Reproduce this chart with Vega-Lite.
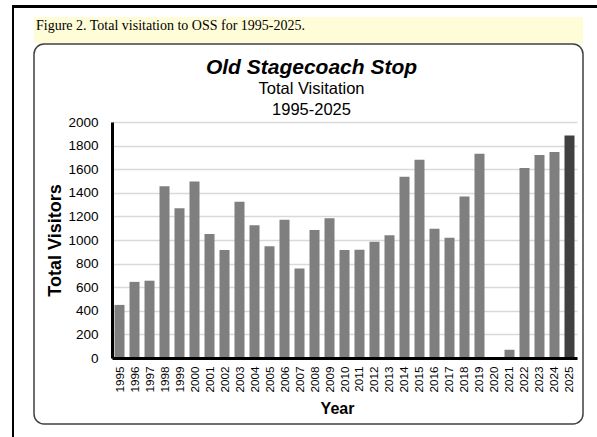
{
  "$schema": "https://vega.github.io/schema/vega-lite/v6.json",
  "background": "white",
  "padding": {"left": 12, "top": 5, "right": 0, "bottom": 0},
  "config": {
    "font": "Liberation Sans",
    "view": {"stroke": null},
    "concat": {"spacing": 0}
  },
  "vconcat": [
    {
      "data": {"values": []},
      "mark": "rect",
      "encoding": {},
      "width": 585,
      "height": 3,
      "view": {"fill": "black", "stroke": null}
    },
    {
      "spacing": 19,
      "hconcat": [
        {
          "data": {"values": []},
          "mark": "rect",
          "encoding": {},
          "width": 2,
          "height": 429,
          "view": {"fill": "black", "stroke": null}
        },
        {
          "spacing": 0,
          "vconcat": [
            {
              "data": {"values": []},
              "mark": "rect",
              "encoding": {},
              "width": 549,
              "height": 9
            },
            {
              "data": {"values": []},
              "mark": "rect",
              "encoding": {},
              "width": 549,
              "height": 26,
              "view": {"fill": "#fffcd8", "stroke": null},
              "title": {
                "text": "Figure 2. Total visitation to OSS for 1995-2025.",
                "font": "Liberation Serif",
                "fontSize": 14,
                "fontWeight": "normal",
                "color": "black",
                "anchor": "start",
                "offset": -16,
                "dx": 2
              }
            },
            {
              "width": 549,
              "height": 380,
              "view": {"fill": "white", "stroke": "#404040", "strokeWidth": 1.5, "cornerRadius": 10},
              "title": {
                "text": "Old Stagecoach Stop",
                "subtitle": ["Total Visitation", "1995-2025"],
                "font": "Liberation Sans",
                "fontSize": 21,
                "fontStyle": "italic",
                "fontWeight": "bold",
                "color": "black",
                "subtitleFont": "Liberation Sans",
                "subtitleFontSize": 16.5,
                "subtitleColor": "black",
                "subtitleLineHeight": 21,
                "subtitlePadding": 3,
                "anchor": "middle",
                "offset": -74,
                "dx": 3
              },
              "data": {
                "values": [
                  {"Year": 1995, "Visitors": 450},
                  {"Year": 1996, "Visitors": 645},
                  {"Year": 1997, "Visitors": 655},
                  {"Year": 1998, "Visitors": 1455},
                  {"Year": 1999, "Visitors": 1270},
                  {"Year": 2000, "Visitors": 1495},
                  {"Year": 2001, "Visitors": 1050},
                  {"Year": 2002, "Visitors": 915},
                  {"Year": 2003, "Visitors": 1325},
                  {"Year": 2004, "Visitors": 1125},
                  {"Year": 2005, "Visitors": 948},
                  {"Year": 2006, "Visitors": 1172},
                  {"Year": 2007, "Visitors": 758},
                  {"Year": 2008, "Visitors": 1084},
                  {"Year": 2009, "Visitors": 1185},
                  {"Year": 2010, "Visitors": 915},
                  {"Year": 2011, "Visitors": 918},
                  {"Year": 2012, "Visitors": 985},
                  {"Year": 2013, "Visitors": 1040},
                  {"Year": 2014, "Visitors": 1535},
                  {"Year": 2015, "Visitors": 1680},
                  {"Year": 2016, "Visitors": 1095},
                  {"Year": 2017, "Visitors": 1020},
                  {"Year": 2018, "Visitors": 1368},
                  {"Year": 2019, "Visitors": 1730},
                  {"Year": 2020, "Visitors": 0},
                  {"Year": 2021, "Visitors": 70},
                  {"Year": 2022, "Visitors": 1610},
                  {"Year": 2023, "Visitors": 1720},
                  {"Year": 2024, "Visitors": 1745},
                  {"Year": 2025, "Visitors": 1885}
                ]
              },
              "mark": {"type": "bar"},
              "encoding": {
                "x": {
                  "field": "Year",
                  "type": "ordinal",
                  "scale": {"range": [78, 543], "paddingInner": 0.333, "paddingOuter": 0.167},
                  "axis": {
                    "title": "Year",
                    "offset": -66,
                    "labelAngle": -90,
                    "labelFontSize": 11.7,
                    "labelColor": "black",
                    "labelPadding": 8,
                    "ticks": false,
                    "grid": false,
                    "domainColor": "black",
                    "domainWidth": 3,
                    "titleFontSize": 16,
                    "titleFontWeight": "bold",
                    "titleColor": "black",
                    "titlePadding": 8,
                    "titleX": 303,
                    "zindex": 1
                  }
                },
                "y": {
                  "field": "Visitors",
                  "type": "quantitative",
                  "scale": {"domain": [0, 2000], "range": [314, 78], "nice": false},
                  "axis": {
                    "title": "Total Visitors",
                    "offset": -78,
                    "values": [0, 200, 400, 600, 800, 1000, 1200, 1400, 1600, 1800, 2000],
                    "format": "d",
                    "grid": true,
                    "gridColor": "#d9d9d9",
                    "gridWidth": 1.5,
                    "domainColor": "black",
                    "domainWidth": 3,
                    "ticks": false,
                    "labelPadding": 14,
                    "labelFontSize": 13.5,
                    "labelColor": "black",
                    "titleFontSize": 18,
                    "titleFontWeight": "bold",
                    "titleColor": "black",
                    "titlePadding": 3
                  }
                },
                "color": {
                  "condition": {"test": "datum.Year === 2025", "value": "#404040"},
                  "value": "#7f7f7f"
                }
              }
            }
          ]
        }
      ]
    }
  ]
}
